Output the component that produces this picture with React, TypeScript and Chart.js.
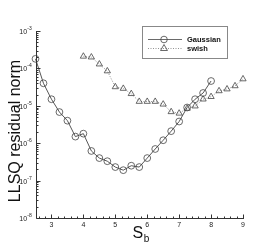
import React, { useEffect, useRef } from "react";
import { Chart, registerables } from "chart.js";

Chart.register(...registerables);

const gaussX = [2.5, 2.75, 3, 3.25, 3.5, 3.75, 4, 4.25, 4.5, 4.75, 5, 5.25, 5.5, 5.75, 6, 6.25, 6.5, 6.75, 7, 7.25, 7.5, 7.75, 8];
const gaussY = [1.8e-4, 4e-5, 1.5e-5, 6.8e-6, 4e-6, 1.5e-6, 1.8e-6, 6.2e-7, 4e-7, 3.3e-7, 2.3e-7, 1.9e-7, 2.5e-7, 2.3e-7, 4e-7, 7e-7, 1.2e-6, 2.1e-6, 3.8e-6, 9e-6, 1.5e-5, 2.2e-5, 4.6e-5];
const swishX = [4, 4.25, 4.5, 4.75, 5, 5.25, 5.5, 5.75, 6, 6.25, 6.5, 6.75, 7, 7.25, 7.5, 7.75, 8, 8.25, 8.5, 8.75, 9];
const swishY = [2.1e-4, 2e-4, 1.3e-4, 8.5e-5, 3.2e-5, 2.9e-5, 2.1e-5, 1.3e-5, 1.3e-5, 1.3e-5, 1.1e-5, 6.9e-6, 6.3e-6, 8.5e-6, 9.8e-6, 1.5e-5, 1.75e-5, 2.5e-5, 2.8e-5, 3.4e-5, 5.2e-5];
const xTicks = [3, 4, 5, 6, 7, 8, 9];
const yExponents = [-8, -7, -6, -5, -4, -3];
const seriesNames = ["Gaussian", "swish"];
const yTitle = "LLSQ residual norm";
const xTitleMain = "S";
const xTitleSub = "b";

const FONT = "'Liberation Sans', Arial, sans-serif";
const LINE = "#444";

const axesPlugin = {
  id: "customAxes",
  afterDraw(chart: any) {
    const ctx = chart.ctx;
    const a = chart.chartArea;
    const xs = chart.scales.x;
    const ys = chart.scales.y;
    const L = Math.round(a.left) + 0.5;
    const B = Math.round(a.bottom) + 0.5;
    ctx.save();
    ctx.strokeStyle = "#333";
    ctx.lineWidth = 1;
    ctx.beginPath();
    ctx.moveTo(L, Math.round(a.top));
    ctx.lineTo(L, B);
    ctx.lineTo(Math.round(a.right) + 1, B);
    ctx.stroke();
    // x ticks
    ctx.beginPath();
    for (let i = 0; i <= 32; i++) {
      const v = 2.6 + i * 0.2;
      if (v > 9.001) break;
      const px = Math.round(xs.getPixelForValue(v)) + 0.5;
      const major = Math.abs(v - Math.round(v)) < 1e-6;
      ctx.moveTo(px, B);
      ctx.lineTo(px, B - (major ? 4 : 2));
    }
    // y ticks
    for (const e of yExponents) {
      for (let m = 1; m <= 9; m++) {
        const v = m * Math.pow(10, e);
        if (v > 1.0001e-3) break;
        const py = Math.round(ys.getPixelForValue(v)) + 0.5;
        ctx.moveTo(L, py);
        ctx.lineTo(L + (m === 1 ? 4 : 2), py);
      }
    }
    ctx.stroke();
    // y labels with superscript
    ctx.fillStyle = "#222";
    ctx.textBaseline = "alphabetic";
    ctx.textAlign = "left";
    for (const e of yExponents) {
      const py = ys.getPixelForValue(Math.pow(10, e));
      ctx.font = `7px ${FONT}`;
      const w10 = ctx.measureText("10").width;
      ctx.font = `5px ${FONT}`;
      const sup = "-" + Math.abs(e);
      const ws = ctx.measureText(sup).width;
      const right = a.left - 4;
      const x0 = right - ws - w10;
      ctx.font = `7px ${FONT}`;
      ctx.fillText("10", x0, py + 3);
      ctx.font = `5px ${FONT}`;
      ctx.fillText(sup, x0 + w10 + 0.3, py - 1);
    }
    // titles
    ctx.fillStyle = "#111";
    ctx.save();
    ctx.translate(16, 131);
    ctx.rotate(-Math.PI / 2);
    ctx.font = `16px ${FONT}`;
    ctx.textAlign = "center";
    ctx.textBaseline = "middle";
    ctx.fillText(yTitle, 0, 0);
    ctx.restore();
    ctx.textAlign = "left";
    ctx.textBaseline = "alphabetic";
    ctx.font = `16px ${FONT}`;
    const sw = ctx.measureText(xTitleMain).width;
    ctx.fillText(xTitleMain, 132.5, 238);
    ctx.font = `10px ${FONT}`;
    ctx.fillText(xTitleSub, 132.5 + sw + 0.5, 241.5);
    // legend
    ctx.strokeStyle = "#888";
    ctx.lineWidth = 1;
    ctx.strokeRect(142.5, 26.5, 85, 32);
    const rows = [39, 48];
    rows.forEach((ry, i) => {
      ctx.strokeStyle = i === 0 ? LINE : "#777";
      ctx.lineWidth = 0.8;
      ctx.setLineDash(i === 0 ? [] : [1, 1.5]);
      ctx.beginPath();
      ctx.moveTo(148, ry + 0.5);
      ctx.lineTo(182, ry + 0.5);
      ctx.stroke();
      ctx.setLineDash([]);
      ctx.strokeStyle = LINE;
      ctx.beginPath();
      if (i === 0) {
        ctx.arc(164, ry + 0.5, 3.3, 0, Math.PI * 2);
      } else {
        const r = 4;
        ctx.moveTo(164, ry + 0.5 - r);
        ctx.lineTo(164 + r * 0.866, ry + 0.5 + r * 0.5);
        ctx.lineTo(164 - r * 0.866, ry + 0.5 + r * 0.5);
        ctx.closePath();
      }
      ctx.stroke();
      ctx.fillStyle = "#111";
      ctx.font = `bold 7.5px ${FONT}`;
      ctx.textBaseline = "middle";
      ctx.fillText(seriesNames[i], 187, ry + 0.5);
    });
    ctx.restore();
  },
};

export default function App() {
  const ref = useRef<HTMLCanvasElement | null>(null);
  useEffect(() => {
    if (!ref.current) return;
    const chart = new Chart(ref.current, {
      type: "line",
      data: {
        datasets: [
          {
            label: seriesNames[0],
            data: gaussX.map((x, i) => ({ x, y: gaussY[i] })),
            borderColor: LINE,
            borderWidth: 0.9,
            pointStyle: "circle",
            pointRadius: 3.4,
            pointBorderColor: LINE,
            pointBorderWidth: 0.8,
            pointBackgroundColor: "rgba(0,0,0,0)",
            fill: false,
            clip: false,
          },
          {
            label: seriesNames[1],
            data: swishX.map((x, i) => ({ x, y: swishY[i] })),
            borderColor: "#777",
            borderWidth: 0.8,
            borderDash: [1, 1.5],
            pointStyle: "triangle",
            pointRadius: 3.6,
            pointBorderColor: LINE,
            pointBorderWidth: 0.8,
            pointBackgroundColor: "rgba(0,0,0,0)",
            fill: false,
            clip: false,
          },
        ],
      },
      options: {
        animation: false,
        responsive: true,
        maintainAspectRatio: false,
        layout: { padding: { top: 31, right: 34, left: 0, bottom: 0 } },
        plugins: { legend: { display: false }, tooltip: { enabled: false } },
        scales: {
          x: {
            type: "linear",
            min: 2.5,
            max: 9,
            afterBuildTicks: (s: any) => {
              s.ticks = xTicks.map((v) => ({ value: v }));
            },
            afterFit: (s: any) => {
              s.height = 28;
            },
            grid: { display: false, drawTicks: false },
            border: { display: false },
            ticks: {
              font: { size: 7, family: FONT },
              color: "#222",
              padding: 3,
              maxRotation: 0,
              autoSkip: false,
            },
          },
          y: {
            type: "logarithmic",
            min: 1e-8,
            max: 1e-3,
            afterBuildTicks: (s: any) => {
              s.ticks = yExponents.map((e) => ({ value: Math.pow(10, e) }));
            },
            afterFit: (s: any) => {
              s.width = 35.5;
            },
            grid: { display: false, drawTicks: false },
            border: { display: false },
            ticks: { display: false },
          },
        },
      },
      plugins: [axesPlugin],
    });
    return () => chart.destroy();
  }, []);
  return (
    <div style={{ position: "fixed", left: 0, top: 0, width: 277, height: 246, background: "#fff" }}>
      <canvas ref={ref} />
    </div>
  );
}
